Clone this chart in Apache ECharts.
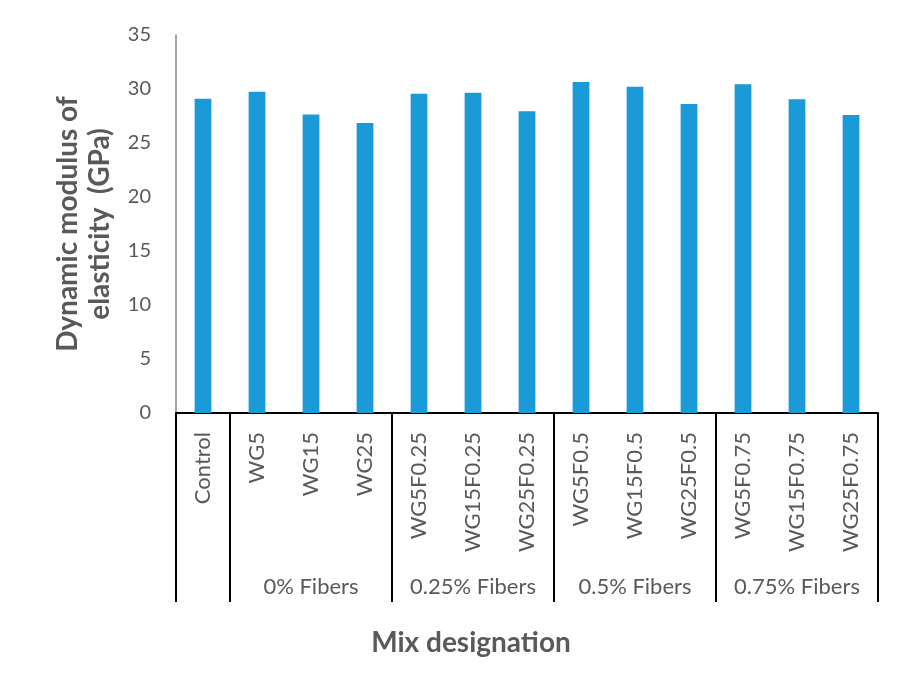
<!DOCTYPE html>
<html>
<head>
<meta charset="utf-8">
<script src="https://cdn.jsdelivr.net/npm/echarts@6/dist/echarts.min.js"></script>
<style>
  html, body { margin: 0; padding: 0; background: #fff; }
  #chart { width: 898px; height: 673px; }
</style>
</head>
<body>
<div id="chart"></div>
<script>
// Mix designations and their dynamic modulus of elasticity (GPa)
const categories = ['Control', 'WG5', 'WG15', 'WG25',
  'WG5F0.25', 'WG15F0.25', 'WG25F0.25',
  'WG5F0.5', 'WG15F0.5', 'WG25F0.5',
  'WG5F0.75', 'WG15F0.75', 'WG25F0.75'];
const modulus = [29.1, 29.75, 27.65, 26.85,
  29.55, 29.65, 27.95,
  30.65, 30.2, 28.6,
  30.45, 29.05, 27.6];

// Fibre-content groups spanning the categories above
const groupLabels = ['', '0% Fibers', '0.25% Fibers', '0.5% Fibers', '0.75% Fibers'];
const groupSizes = [1, 3, 3, 3, 3];

// Value axis ticks
const yTicks = [0, 5, 10, 15, 20, 25, 30, 35];

// Index where each group starts, and a label row with each group name under its middle category
const groupStarts = [];
const groupRow = new Array(categories.length).fill('');
let pos = 0;
groupSizes.forEach((n, g) => {
  groupStarts.push(pos);
  groupRow[pos + Math.floor(n / 2)] = groupLabels[g];
  pos += n;
});

const FONT = 'Lato';
const GREY = '#595959';

const chart = echarts.init(document.getElementById('chart'), null, { renderer: 'canvas' });
chart.setOption({
  animation: false,
  backgroundColor: '#ffffff',
  grid: { left: 176, right: 20, top: 35, bottom: 260, containLabel: false },
  xAxis: [
    {
      type: 'category',
      data: categories,
      position: 'bottom',
      axisLine: { show: true, lineStyle: { color: '#000', width: 2 } },
      axisTick: {
        show: true,
        length: 189,
        interval: (i) => groupStarts.indexOf(i) >= 0,
        lineStyle: { color: '#000', width: 2 }
      },
      axisLabel: {
        interval: 0,
        rotate: 90,
        margin: 19,
        color: GREY,
        fontFamily: FONT,
        fontSize: 22
      },
      name: 'Mix designation',
      nameLocation: 'middle',
      nameGap: 216,
      nameTextStyle: {
        color: GREY, fontFamily: FONT, fontSize: 28, fontWeight: 'bold',
        padding: [0, 112, 0, 0]
      }
    },
    {
      type: 'category',
      data: groupRow,
      position: 'bottom',
      axisLine: { show: false },
      axisTick: { show: false },
      axisLabel: {
        interval: 0,
        margin: 163,
        color: GREY,
        fontFamily: FONT,
        fontSize: 22
      }
    }
  ],
  yAxis: {
    type: 'value',
    min: yTicks[0],
    max: yTicks[yTicks.length - 1],
    interval: yTicks[1] - yTicks[0],
    axisLine: { show: true, lineStyle: { color: '#868686', width: 1.5 } },
    axisTick: { show: false },
    splitLine: { show: false },
    axisLabel: { color: GREY, fontFamily: FONT, fontSize: 20, margin: 25 },
    name: 'Dynamic modulus of\nelasticity  (GPa)',
    nameLocation: 'middle',
    nameGap: 60,
    nameTextStyle: {
      color: GREY, fontFamily: FONT, fontSize: 28, fontWeight: 'bold',
      lineHeight: 32
    }
  },
  series: [{
    type: 'bar',
    xAxisIndex: 0,
    data: modulus,
    barWidth: '31%',
    itemStyle: { color: '#1a9ad6' }
  }]
});
</script>
</body>
</html>
